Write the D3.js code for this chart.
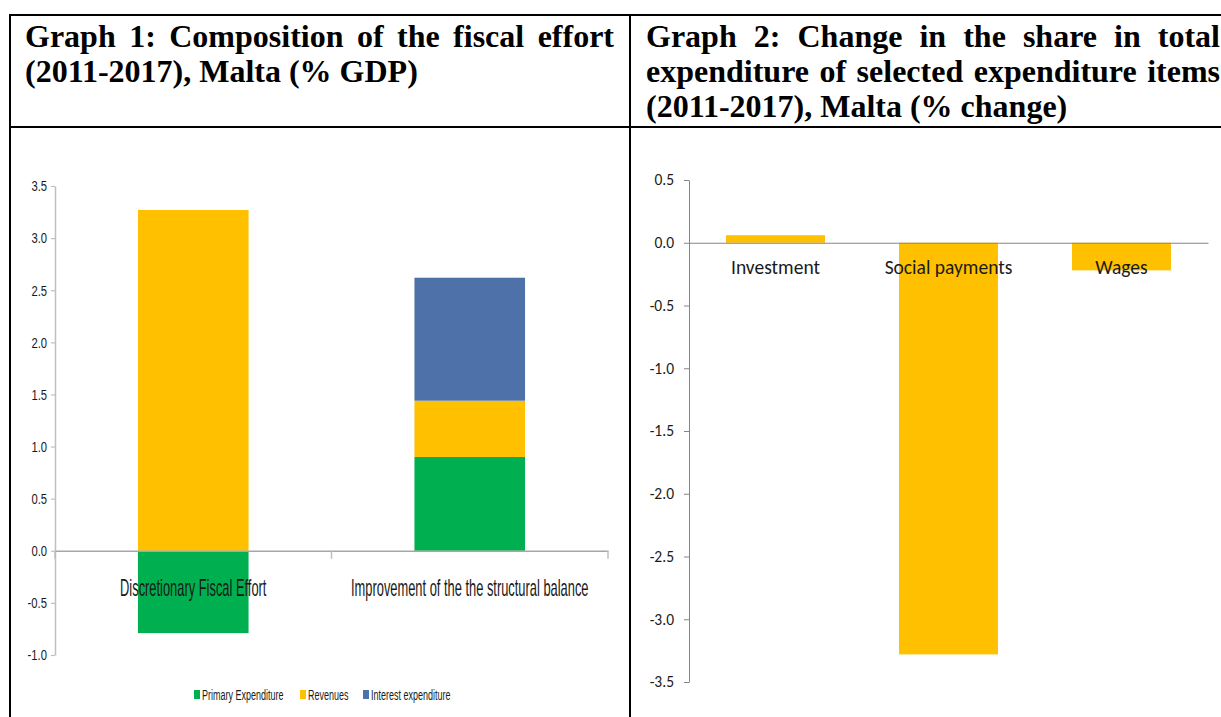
<!DOCTYPE html>
<html>
<head>
<meta charset="utf-8">
<script src="https://cdn.jsdelivr.net/npm/d3@7"></script>
<style>
  html, body { margin: 0; padding: 0; background: #fff; }
  svg { display: block; }
</style>
</head>
<body>
<svg id="chart" width="1221" height="717"></svg>
<script>
// ---------- DATA ----------
const title1Lines = ["Graph 1: Composition of the fiscal effort", "(2011-2017), Malta (% GDP)"];
const title2Lines = ["Graph 2: Change in the share in total", "expenditure of selected expenditure items", "(2011-2017), Malta (% change)"];

const leftCategories = ["Discretionary Fiscal Effort", "Improvement of the the structural balance"];
const seriesNames = ["Primary Expenditure", "Revenues", "Interest expenditure"];
const primaryExpenditure = [-0.79, 0.90];
const revenues = [3.27, 0.54];
const interestExpenditure = [0.00, 1.18];
const leftTicks = [-1.0, -0.5, 0.0, 0.5, 1.0, 1.5, 2.0, 2.5, 3.0, 3.5];

const rightCategories = ["Investment", "Social payments", "Wages"];
const rightValues = [0.06, -3.28, -0.22];
const rightTicks = [-3.5, -3.0, -2.5, -2.0, -1.5, -1.0, -0.5, 0.0, 0.5];

// ---------- STYLE ----------
const colors = { "Primary Expenditure": "#00b050", "Revenues": "#ffc000", "Interest expenditure": "#4e71a9" };
const narrowFont = "'Liberation Sans', Arial, sans-serif";
const calibriLike = "Carlito, Calibri, Lato, 'Open Sans', sans-serif";
const serifFont = "'Liberation Serif', 'Times New Roman', serif";
const fmt = d => d.toFixed(1);   // plain hyphen-minus as in the original

const svg = d3.select("#chart");
svg.append("rect").attr("width", 1221).attr("height", 717).attr("fill", "#fff");

// condense a text element horizontally around its x anchor
function condense(sel, f) {
  sel.each(function () {
    const ax = +(this.getAttribute("x") || 0);
    d3.select(this).attr("transform", `translate(${ax},0) scale(${f},1) translate(${-ax},0)`);
  });
}

// ---------- TABLE FRAME ----------
const frame = svg.append("g").attr("stroke", "#000").attr("stroke-width", 2);
frame.append("line").attr("x1", 9).attr("x2", 1221).attr("y1", 15).attr("y2", 15);
frame.append("line").attr("x1", 9).attr("x2", 1221).attr("y1", 127).attr("y2", 127);
frame.append("line").attr("x1", 10).attr("x2", 10).attr("y1", 14).attr("y2", 717);
frame.append("line").attr("x1", 630).attr("x2", 630).attr("y1", 14).attr("y2", 717);

// ---------- TITLES ----------
function justifiedLine(g, text, x0, x1, y) {
  const words = text.split(" ");
  const nodes = words.map(w => g.append("text").attr("y", y).text(w));
  const widths = nodes.map(n => n.node().getComputedTextLength());
  const total = d3.sum(widths);
  const gap = (x1 - x0 - total) / (words.length - 1);
  let x = x0;
  nodes.forEach((n, i) => { n.attr("x", x); x += widths[i] + gap; });
}
function titleBlock(lines, x0, x1, y0, lh) {
  const g = svg.append("g")
    .attr("font-family", serifFont).attr("font-weight", "bold")
    .attr("font-size", 32).attr("fill", "#000");
  lines.forEach((t, i) => {
    const y = y0 + i * lh;
    if (i < lines.length - 1) justifiedLine(g, t, x0, x1, y);
    else g.append("text").attr("x", x0).attr("y", y).text(t);
  });
}
titleBlock(title1Lines, 25, 614, 47, 35);
titleBlock(title2Lines, 646, 1220, 47, 35);

// ---------- LEFT CHART ----------
(function () {
  const g = svg.append("g");
  const y = d3.scaleLinear().domain([-1, 3.5]).range([655, 186]);
  const x = d3.scaleBand().domain(leftCategories).range([55, 608]).paddingInner(0.6).paddingOuter(0.3);

  const rows = leftCategories.map((c, i) => ({
    cat: c,
    "Primary Expenditure": primaryExpenditure[i],
    "Revenues": revenues[i],
    "Interest expenditure": interestExpenditure[i]
  }));
  const stack = d3.stack().keys(seriesNames).offset(d3.stackOffsetDiverging);
  const layers = stack(rows);

  g.selectAll("g.layer").data(layers).join("g")
    .attr("class", "layer")
    .attr("fill", d => colors[d.key])
    .selectAll("rect").data(d => d).join("rect")
    .attr("x", d => x(d.data.cat))
    .attr("width", x.bandwidth())
    .attr("y", d => y(Math.max(d[0], d[1])))
    .attr("height", d => Math.abs(y(d[0]) - y(d[1])));

  // y axis
  const ya = g.append("g").attr("transform", "translate(55,0)")
    .call(d3.axisLeft(y).tickValues(leftTicks).tickFormat(fmt).tickSize(4).tickSizeOuter(0).tickPadding(4));
  ya.select(".domain").attr("stroke", "#bfbfbf").attr("stroke-width", 1.5);
  ya.selectAll(".tick line").attr("stroke", "#bfbfbf").attr("stroke-width", 1.2);
  ya.selectAll(".tick text").attr("font-family", narrowFont).attr("font-size", 15).attr("fill", "#1a1a1a")
    .call(condense, 0.75);

  // x axis line at zero with boundary ticks
  const y0 = y(0);
  const xa = g.append("g").attr("transform", `translate(0,${y0})`)
    .call(d3.axisBottom(x).tickSize(0).tickSizeOuter(0).tickFormat(""));
  xa.select(".domain").attr("stroke", "#a6a6a6").attr("stroke-width", 1.5);
  const step = x.step();
  const bounds = [x.range()[0]].concat(leftCategories.map(c => x(c) + x.bandwidth() + step * x.paddingInner() / 2));
  bounds[bounds.length - 1] = x.range()[1];
  g.selectAll("line.xtick").data(bounds).join("line")
    .attr("class", "xtick")
    .attr("x1", d => d).attr("x2", d => d)
    .attr("y1", y0).attr("y2", y0 + 8)
    .attr("stroke", "#bfbfbf").attr("stroke-width", 1.5);

  // category labels
  g.selectAll("text.cat").data(leftCategories).join("text")
    .attr("class", "cat")
    .attr("x", d => x(d) + x.bandwidth() / 2)
    .attr("y", y0 + 45)
    .attr("text-anchor", "middle")
    .attr("font-family", narrowFont).attr("font-size", 23).attr("fill", "#1a1a1a")
    .text(d => d)
    .call(condense, 0.56);

  // legend
  const legendX = [194, 300, 363];
  const lg = g.append("g");
  seriesNames.forEach((s, i) => {
    lg.append("rect").attr("x", legendX[i]).attr("y", 690).attr("width", 6).attr("height", 9).attr("fill", colors[s]);
    lg.append("text").attr("x", legendX[i] + 8).attr("y", 700)
      .attr("font-family", narrowFont).attr("font-size", 15).attr("fill", "#1a1a1a")
      .text(s)
      .call(condense, 0.6);
  });
})();

// ---------- RIGHT CHART ----------
(function () {
  const g = svg.append("g");
  const y = d3.scaleLinear().domain([-3.5, 0.5]).range([682, 180]);
  const x = d3.scaleBand().domain(rightCategories).range([689, 1208]).paddingInner(0.428).paddingOuter(0.214);

  g.selectAll("rect.bar").data(rightCategories.map((c, i) => ({ c, v: rightValues[i] }))).join("rect")
    .attr("class", "bar")
    .attr("x", d => x(d.c))
    .attr("width", x.bandwidth())
    .attr("y", d => y(Math.max(0, d.v)))
    .attr("height", d => Math.abs(y(d.v) - y(0)))
    .attr("fill", "#ffc000");

  const ya = g.append("g").attr("transform", "translate(689,0)")
    .call(d3.axisLeft(y).tickValues(rightTicks).tickFormat(fmt).tickSize(5).tickSizeOuter(0).tickPadding(10));
  ya.select(".domain").attr("stroke", "#868686").attr("stroke-width", 1);
  ya.selectAll(".tick line").attr("stroke", "#868686");
  ya.selectAll(".tick text").attr("font-family", calibriLike).attr("font-size", 15.5).attr("fill", "#1a1a1a");

  const y0 = y(0);
  const xa = g.append("g").attr("transform", `translate(0,${y0})`)
    .call(d3.axisBottom(x).tickSize(0).tickSizeOuter(0).tickFormat(""));
  xa.select(".domain").attr("stroke", "#868686").attr("stroke-width", 1);

  g.selectAll("text.cat").data(rightCategories).join("text")
    .attr("class", "cat")
    .attr("x", d => x(d) + x.bandwidth() / 2)
    .attr("y", y0 + 31)
    .attr("text-anchor", "middle")
    .attr("font-family", calibriLike).attr("font-size", 19.5).attr("fill", "#1a1a1a")
    .text(d => d);
})();
</script>
</body>
</html>
